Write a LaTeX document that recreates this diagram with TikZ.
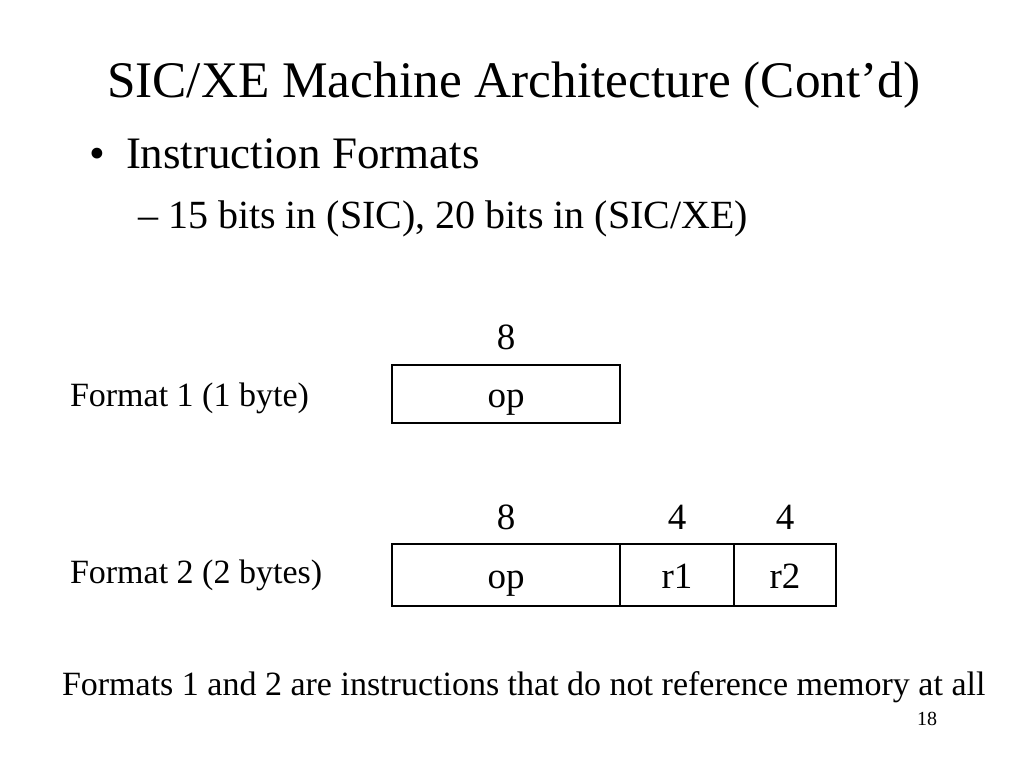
\documentclass[tikz,border=0pt]{standalone}
\usepackage{fontspec}
\setmainfont{Liberation Serif}
\usetikzlibrary{positioning}
\tikzset{txt/.style={anchor=base west,inner sep=0pt,outer sep=0pt},
cell/.style={draw,line width=1.5pt,minimum height=58pt,inner sep=0pt,outer sep=0pt,text height=34pt,text depth=8pt,font=\fontsize{37}{44}\selectfont},
bits/.style={inner sep=0pt,font=\fontsize{37}{44}\selectfont}}

\begin{document}
\begin{tikzpicture}[x=1pt,y=-1pt]
		\useasboundingbox (0,0) rectangle (1024,768);
		\node[txt,font=\fontsize{51.3}{60}\selectfont] (title) at (107,97) {SIC/XE Machine Architecture (Cont’d)};
		\node[txt,font=\fontsize{45}{52}\selectfont] (bullet) at (89,168) {•};
		\node[txt,font=\fontsize{45}{52}\selectfont] (item) at (126,168) {Instruction Formats};
		\node[txt,font=\fontsize{40}{48}\selectfont] (sub) at (138,228) {– 15 bits in (SIC), 20 bits in (SIC/XE)};
		% format 1
		\node[txt,font=\fontsize{34}{40}\selectfont] (f1) at (70,406) {Format 1 (1 byte)};
		\node[cell,minimum width=228pt,anchor=north west] (f1op) at (392,365) {op};
		\node[bits,above=15pt of f1op] (f1opb) {8};
		% format 2
		\node[txt,font=\fontsize{34}{40}\selectfont] (f2) at (70,583) {Format 2 (2 bytes)};
		\node[cell,minimum width=228pt,minimum height=62pt,anchor=north west] (f2op) at (392,544) {op};
		\node[cell,minimum width=114pt,minimum height=62pt,right=0pt of f2op] (f2r1) {r1};
		\node[cell,minimum width=102pt,minimum height=62pt,right=0pt of f2r1] (f2r2) {r2};
		\foreach \c/\n in {f2op/8,f2r1/4,f2r2/4}
		\node[bits,above=14pt of \c] (\c b) {\n};
		\node[txt,font=\fontsize{34}{40}\selectfont] (note) at (62,695) {Formats 1 and 2 are instructions that do not reference memory at all};
		\node[txt,font=\fontsize{20}{24}\selectfont] (page) at (917,725) {18};
	\end{tikzpicture}
\end{document}
